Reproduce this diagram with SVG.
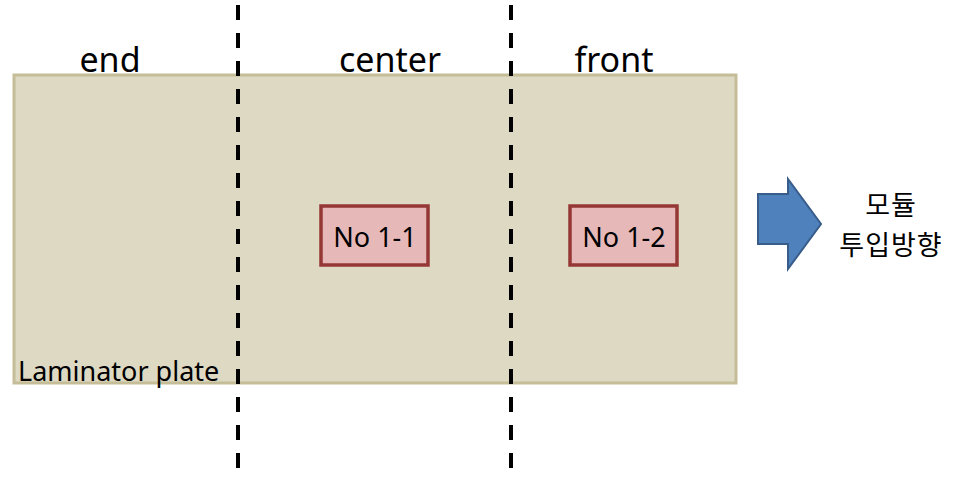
<svg xmlns="http://www.w3.org/2000/svg" width="968" height="477" viewBox="0 0 968 477">
<style>
.lbl{font-family:"Noto Sans","Open Sans","Liberation Sans",sans-serif;fill:#000}
.kr{font-family:"Noto Sans CJK KR","Noto Sans",sans-serif;fill:#000;font-size:27px}
.box{fill:#e6b9b8;stroke:#953735;stroke-width:3.5}
.dash{stroke:#000;stroke-width:4;stroke-dasharray:15 13;fill:none}
</style>
<rect width="968" height="477" fill="#fff"/>
<g id="plate">
<rect x="14" y="75" width="722" height="308" fill="#ddd9c3" stroke="#c4bd97" stroke-width="3"/>
<text class="lbl" x="18" y="381" font-size="27">Laminator plate</text>
</g>
<g id="labels">
<text class="lbl" x="110" y="72" font-size="34" text-anchor="middle">end</text>
<text class="lbl" x="390" y="72" font-size="34" text-anchor="middle">center</text>
<text class="lbl" x="614" y="72" font-size="34" text-anchor="middle">front</text>
</g>
<g id="no1-1">
<rect class="box" x="321" y="206" width="107" height="59"/>
<text class="lbl" x="375" y="247" font-size="27" text-anchor="middle">No 1-1</text>
</g>
<g id="no1-2">
<rect class="box" x="570" y="206" width="107" height="59"/>
<text class="lbl" x="624" y="247" font-size="27" text-anchor="middle">No 1-2</text>
</g>
<g id="connectors">
<line class="dash" x1="238" y1="5" x2="238" y2="468"/>
<line class="dash" x1="511" y1="5" x2="511" y2="468"/>
</g>
<g id="direction">
<polygon points="758,194 788,194 788,179 821,224 788,269 788,244 758,244" fill="#4f81bd" stroke="#385d8a" stroke-width="2"/>
<text class="kr" x="891" y="215" text-anchor="middle" letter-spacing="1">모듈</text>
<text class="kr" x="891" y="255" text-anchor="middle" letter-spacing="1">투입방향</text>
</g>
</svg>
